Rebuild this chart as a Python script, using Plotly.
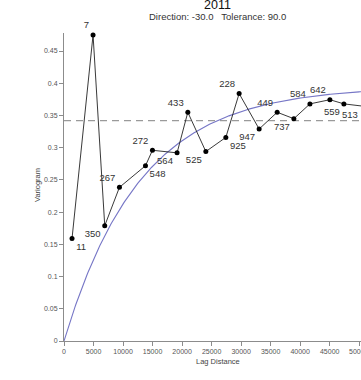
import numpy as np
import plotly.graph_objects as go

# ---- data ----
lag = [1360, 4920, 6900, 9390, 13800, 14980, 19150, 20970, 24020, 27410,
       29660, 33050, 36100, 38930, 41650, 45030, 47400, 50600]
gamma = [0.159, 0.475, 0.179, 0.2385, 0.272, 0.296, 0.292, 0.355, 0.294, 0.316,
         0.384, 0.329, 0.355, 0.345, 0.368, 0.3745, 0.368, 0.3645]
pairs = ["11", "7", "350", "267", "548", "272", "564", "433", "525", "925",
         "228", "947", "449", "737", "584", "642", "559", "513"]
sample_var = 0.342
model_sill = 0.395
model_range = 38800
x_ticks = list(range(0, 50001, 5000))
y_ticks = [0, 0.05, 0.1, 0.15, 0.2, 0.25, 0.3, 0.35, 0.4, 0.45]

# label placement (style)
label_pos = ["bottom right", "top left", "bottom left", "top left", "bottom right",
             "top left", "bottom left", "top left", "bottom left", "bottom right",
             "top left", "bottom left", "top left", "bottom left", "top left",
             "top left", "bottom left", "bottom left"]

XMAX = 50300
YMAX = 0.478

h = np.linspace(0, XMAX, 300)
model = model_sill * (1 - np.exp(-3 * h / model_range))

W, H = 361, 380
L, R, T, B = 64, 0, 33, 39
pw, ph = W - L - R, H - T - B

def px(x):
    return (x - L) / pw

def py(y):
    return (H - B - y) / ph

lblfont = dict(family="Liberation Sans, Arial", size=9.5, color="#333")

fig = go.Figure()
fig.add_trace(go.Scatter(x=[0, XMAX], y=[sample_var, sample_var], mode="lines",
                         line=dict(color="#9a9a9a", width=1.3, dash="7px,5px"),
                         hoverinfo="skip", showlegend=False))
fig.add_trace(go.Scatter(x=h, y=model, mode="lines",
                         line=dict(color="#7676c6", width=1.1),
                         hoverinfo="skip", showlegend=False))
fig.add_trace(go.Scatter(x=lag, y=gamma, mode="lines+markers+text",
                         text=pairs, textposition=label_pos, textfont=lblfont,
                         line=dict(color="#222", width=0.9),
                         marker=dict(color="#000", size=5),
                         cliponaxis=False, showlegend=False))

# labels of points lying beyond the visible right edge (plotly hides them)
extra = []
for xv, yv, t in zip(lag, gamma, pairs):
    if xv > XMAX:
        extra.append(dict(text=t, x=xv / XMAX, y=yv / YMAX, xref="paper", yref="paper",
                          xanchor="right", yanchor="top", xshift=-3, yshift=-1,
                          showarrow=False, font=lblfont))

# tick labels near the cut right edge (drawn as annotations so they are clipped, not dropped)
tick_text = [str(v) if v < XMAX - 1500 else "" for v in x_ticks]
for v in x_ticks:
    if v >= XMAX - 1500:
        extra.append(dict(text=str(v), x=v / XMAX, y=0, xref="paper", yref="paper",
                          xanchor="center", yanchor="top", yshift=-5, showarrow=False,
                          font=dict(size=7, color="#555")))

font = "Liberation Sans, Arial, sans-serif"
fig.update_layout(
    width=W, height=H,
    margin=dict(l=L, r=R, t=T, b=B, pad=0),
    plot_bgcolor="white", paper_bgcolor="white",
    font=dict(family=font),
    xaxis=dict(range=[0, XMAX], tickvals=x_ticks, ticktext=tick_text,
               showline=True, linecolor="#8c8c8c", linewidth=1,
               ticks="outside", ticklen=4, tickcolor="#8c8c8c",
               tickfont=dict(size=7, color="#555"), showgrid=False, zeroline=False),
    yaxis=dict(range=[0, YMAX], tickvals=y_ticks, ticktext=[str(v) for v in y_ticks],
               showline=True, linecolor="#8c8c8c", linewidth=1,
               ticks="outside", ticklen=4, tickcolor="#8c8c8c",
               tickfont=dict(size=7, color="#555"), showgrid=False, zeroline=False),
    annotations=[
        dict(text="2011", x=px(217), y=py(5), xref="paper", yref="paper",
             showarrow=False, font=dict(size=12.5, color="#111"), xanchor="center", yanchor="middle"),
        dict(text="Direction: -30.0&nbsp;&nbsp;&nbsp;Tolerance: 90.0", x=px(217), y=py(17),
             xref="paper", yref="paper", showarrow=False,
             font=dict(size=9.5, color="#333"), xanchor="center", yanchor="middle"),
        dict(text="Lag Distance", x=px(218), y=py(361), xref="paper", yref="paper",
             showarrow=False, font=dict(size=7.5, color="#444"), xanchor="center", yanchor="middle"),
        dict(text="Variogram", x=px(37), y=py(185), xref="paper", yref="paper", textangle=-90,
             showarrow=False, font=dict(size=7.5, color="#444"), xanchor="center", yanchor="middle"),
    ] + extra,
)

fig.write_html("out.html")
